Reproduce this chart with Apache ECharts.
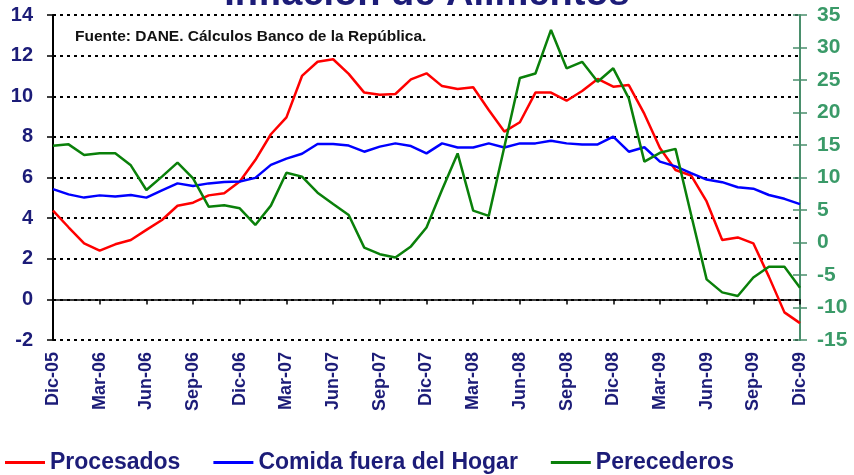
<!DOCTYPE html>
<html>
<head>
<meta charset="utf-8">
<script src="https://cdn.jsdelivr.net/npm/echarts@6/dist/echarts.min.js"></script>
<style>
    html, body {margin: 0; padding: 0; background: #fff;}
    #chart {width: 854px; height: 475px;}
</style>
</head>
<body>
<div id="chart"></div>
<script>
var months = ['Dic-05', 'Ene-06', 'Feb-06', 'Mar-06', 'Abr-06', 'May-06', 'Jun-06', 'Jul-06', 'Ago-06', 'Sep-06', 'Oct-06', 'Nov-06',
    'Dic-06', 'Ene-07', 'Feb-07', 'Mar-07', 'Abr-07', 'May-07', 'Jun-07', 'Jul-07', 'Ago-07', 'Sep-07', 'Oct-07', 'Nov-07',
    'Dic-07', 'Ene-08', 'Feb-08', 'Mar-08', 'Abr-08', 'May-08', 'Jun-08', 'Jul-08', 'Ago-08', 'Sep-08', 'Oct-08', 'Nov-08',
    'Dic-08', 'Ene-09', 'Feb-09', 'Mar-09', 'Abr-09', 'May-09', 'Jun-09', 'Jul-09', 'Ago-09', 'Sep-09', 'Oct-09', 'Nov-09',
    'Dic-09'];

// eje izquierdo
var procesados = [4.37, 3.55, 2.76, 2.40, 2.71, 2.92, 3.42, 3.91, 4.61, 4.76, 5.12, 5.22,
    5.80, 6.86, 8.13, 8.96, 11.0, 11.7, 11.82, 11.1, 10.18, 10.07, 10.11, 10.83,
    11.13, 10.5, 10.36, 10.44, 9.32, 8.26, 8.72, 10.18, 10.18, 9.78, 10.26, 10.85,
    10.47, 10.55, 9.13, 7.45, 6.37, 6.1, 4.82, 2.92, 3.05, 2.76, 1.12, -0.64,
    -1.17];
var comidaFuera = [5.43, 5.17, 5.01, 5.12, 5.07, 5.14, 5.01, 5.37, 5.71, 5.58, 5.71, 5.78,
    5.80, 5.98, 6.62, 6.93, 7.17, 7.65, 7.65, 7.57, 7.27, 7.52, 7.68, 7.55,
    7.19, 7.68, 7.48, 7.48, 7.68, 7.48, 7.68, 7.68, 7.81, 7.68, 7.63, 7.63,
    8.01, 7.27, 7.49, 6.78, 6.55, 6.22, 5.9, 5.77, 5.52, 5.45, 5.14, 4.95,
    4.69];
// eje derecho
var perecederos = [14.9, 15.1, 13.46, 13.72, 13.72, 11.87, 8.08, 10.13, 12.28, 9.87, 5.51, 5.72,
    5.26, 2.7, 5.67, 10.74, 10.13, 7.67, 5.92, 4.23, -0.79, -1.8, -2.3, -0.6,
    2.3, 8.1, 13.7, 4.9, 4.1, 14.7, 25.3, 26.0, 32.7, 26.8, 27.8, 24.74,
    26.8, 22.18, 12.44, 13.8, 14.4, 4.3, -5.67, -7.67, -8.23, -5.38, -3.72, -3.72,
    -6.95];

var navy = '#1c1c78';
var green = '#3a9a68';
var font = "'Liberation Sans', Arial, sans-serif";

var chart = echarts.init(document.getElementById('chart'), null, {renderer: 'canvas'});
var option = {
    animation: false,
    backgroundColor: '#fff',
    textStyle: {fontFamily: font},
    graphic: [{
        type: 'text', left: 'center', top: -24,
        style: {text: 'Inflación de Alimentos', fontSize: 38, fontWeight: 'bold', fill: navy, fontFamily: font}
    }, {
        type: 'text', left: 75, top: 29,
        style: {text: 'Fuente: DANE. Cálculos Banco de la República.', fontSize: 15.5, fontWeight: 'bold', fill: '#111', fontFamily: font}
    }],
    grid: {left: 53, right: 54, top: 15, bottom: 135},
    legend: {
        left: 0, top: 446,
        icon: 'rect', itemWidth: 40, itemHeight: 3, itemGap: 33,
        textStyle: {color: navy, fontSize: 23, fontWeight: 'bold', fontFamily: font},
        data: ['Procesados', 'Comida fuera del Hogar', 'Perecederos']
    },
    xAxis: [{
        type: 'category', data: months, boundaryGap: false, position: 'bottom',
        axisLine: {show: false, onZero: false},
        axisTick: {show: false},
        axisLabel: {rotate: 90, interval: 2, margin: 12, color: navy, fontSize: 18, fontWeight: 'bold', fontFamily: font}
    }, {
        type: 'category', data: months, boundaryGap: false, position: 'bottom',
        axisLine: {show: true, onZero: true, onZeroAxisIndex: 0, lineStyle: {color: '#000', width: 1.5}},
        axisTick: {show: true, interval: 2, length: 5, lineStyle: {color: '#000', width: 1.5}},
        axisLabel: {show: false}
    }],
    yAxis: [{
        type: 'value', min: -2, max: 14, interval: 2, position: 'left',
        axisLine: {show: true, lineStyle: {color: '#000', width: 2}},
        axisTick: {show: true, length: 6, lineStyle: {color: '#000', width: 1.5}},
        axisLabel: {color: navy, fontSize: 20, fontWeight: 'bold', margin: 20, fontFamily: font},
        splitLine: {show: true, lineStyle: {color: '#000', type: [3, 4], width: 2}}
    }, {
        type: 'value', min: -15, max: 35, interval: 5, position: 'right',
        axisLine: {show: true, lineStyle: {color: '#4a8f6c', width: 2}},
        axisTick: {show: true, length: 7, lineStyle: {color: '#4a8f6c', width: 1.5}},
        axisLabel: {color: green, fontSize: 21, fontWeight: 'bold', margin: 17, fontFamily: font},
        splitLine: {show: false}
    }, {
        // marcas hacia adentro del eje derecho
        type: 'value', min: -15, max: 35, interval: 5, position: 'right',
        axisLine: {show: false},
        axisTick: {show: true, inside: true, length: 7, lineStyle: {color: '#4a8f6c', width: 1.5}},
        axisLabel: {show: false},
        splitLine: {show: false}
    }],
    series: [{
        name: 'Procesados', type: 'line', yAxisIndex: 0, data: procesados,
        showSymbol: false, symbol: 'none', color: '#ff0000',
        lineStyle: {width: 2.5, color: '#ff0000'}
    }, {
        name: 'Comida fuera del Hogar', type: 'line', yAxisIndex: 0, data: comidaFuera,
        showSymbol: false, symbol: 'none', color: '#0000ff',
        lineStyle: {width: 2.5, color: '#0000ff'}
    }, {
        name: 'Perecederos', type: 'line', yAxisIndex: 1, data: perecederos,
        showSymbol: false, symbol: 'none', color: '#0a800a',
        lineStyle: {width: 2.5, color: '#0a800a'}
    }]
};
chart.setOption(option);
</script>
</body>
</html>
